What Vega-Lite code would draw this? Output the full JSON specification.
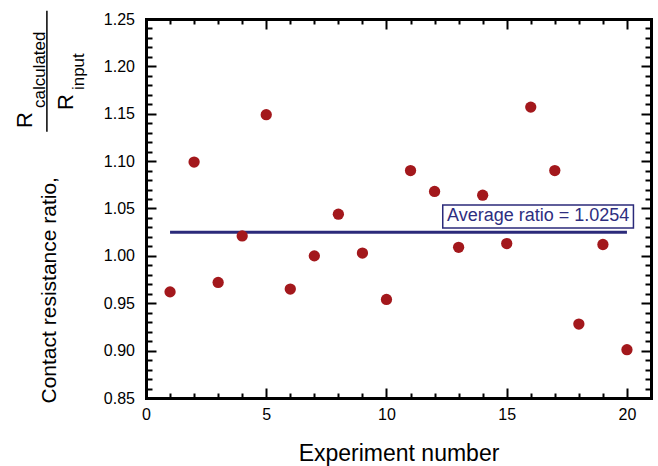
{
  "$schema": "https://vega.github.io/schema/vega-lite/v6.json",
  "width": 505,
  "height": 379,
  "autosize": "none",
  "padding": {"left": 146, "top": 19, "right": 7, "bottom": 68},
  "background": "white",
  "config": {
    "view": {"stroke": null},
    "font": "Liberation Sans",
    "axis": {
      "grid": false,
      "labelColor": "black",
      "labelFont": "Liberation Sans",
      "labelFontSize": 16,
      "labelOverlap": false,
      "labelFlush": false,
      "labelBound": false,
      "titleColor": "black",
      "titleFont": "Liberation Sans",
      "titleFontWeight": "normal"
    }
  },
  "data": {
    "values": [
      {"exp": 1, "ratio": 0.962},
      {"exp": 2, "ratio": 1.099},
      {"exp": 3, "ratio": 0.972},
      {"exp": 4, "ratio": 1.021},
      {"exp": 5, "ratio": 1.149},
      {"exp": 6, "ratio": 0.965},
      {"exp": 7, "ratio": 1.000},
      {"exp": 8, "ratio": 1.044},
      {"exp": 9, "ratio": 1.003},
      {"exp": 10, "ratio": 0.954},
      {"exp": 11, "ratio": 1.090},
      {"exp": 12, "ratio": 1.068},
      {"exp": 13, "ratio": 1.009},
      {"exp": 14, "ratio": 1.064},
      {"exp": 15, "ratio": 1.013},
      {"exp": 16, "ratio": 1.157},
      {"exp": 17, "ratio": 1.090},
      {"exp": 18, "ratio": 0.928},
      {"exp": 19, "ratio": 1.012},
      {"exp": 20, "ratio": 0.901}
    ]
  },
  "resolve": {"axis": {"x": "independent", "y": "independent"}},
  "layer": [
    {
      "mark": {"type": "rule", "color": "#2b2a7a", "strokeWidth": 3},
      "encoding": {
        "x": {
          "aggregate": "min", "field": "exp", "type": "quantitative",
          "scale": {"domain": [0, 21], "nice": false, "zero": false},
          "axis": {
            "orient": "top", "title": null, "labels": false,
            "domain": true, "domainColor": "black", "domainWidth": 3, "domainCap": "square",
            "ticks": true, "tickSize": -10, "tickColor": "black", "tickWidth": 2,
            "values": [0, 5, 10, 15, 20]
          }
        },
        "x2": {"aggregate": "max", "field": "exp"},
        "y": {
          "aggregate": "mean", "field": "ratio", "type": "quantitative",
          "scale": {"domain": [0.85, 1.25], "nice": false, "zero": false},
          "axis": {
            "orient": "right", "title": null, "labels": false,
            "domain": true, "domainColor": "black", "domainWidth": 3, "domainCap": "square",
            "ticks": true, "tickSize": -10, "tickColor": "black", "tickWidth": 2,
            "values": [0.85, 0.9, 0.95, 1.0, 1.05, 1.1, 1.15, 1.2, 1.25]
          }
        }
      }
    },
    {
      "mark": {"type": "circle", "color": "#a3181c", "opacity": 1, "size": 127},
      "encoding": {
        "x": {
          "field": "exp", "type": "quantitative",
          "axis": {
            "orient": "bottom",
            "domain": true, "domainColor": "black", "domainWidth": 3, "domainCap": "square",
            "ticks": true, "tickSize": -10, "tickColor": "black", "tickWidth": 2,
            "title": "Experiment number",
            "titleFontSize": 23,
            "titleX": 252.5,
            "titleY": 62,
            "titleAlign": "center",
            "titleBaseline": "alphabetic",
            "values": [0, 5, 10, 15, 20],
            "labelBaseline": "alphabetic",
            "labelPadding": 31
          }
        },
        "y": {
          "field": "ratio", "type": "quantitative",
          "axis": {
            "orient": "left",
            "domain": true, "domainColor": "black", "domainWidth": 3, "domainCap": "square",
            "ticks": true, "tickSize": -10, "tickColor": "black", "tickWidth": 2,
            "title": "Contact resistance ratio,",
            "titleFontSize": 21,
            "titleAngle": -90,
            "titleX": -91,
            "titleY": 384,
            "titleAlign": "left",
            "titleBaseline": "alphabetic",
            "values": [0.85, 0.9, 0.95, 1.0, 1.05, 1.1, 1.15, 1.2, 1.25],
            "format": ".2f",
            "labelPadding": 21.5
          }
        }
      }
    },
    {
      "data": {"values": [{}]},
      "mark": {"type": "rect", "fill": "white", "stroke": "#2b2a7a", "strokeWidth": 1.5},
      "encoding": {
        "x": {"datum": 12.34, "type": "quantitative",
          "axis": {"orient": "bottom", "title": null, "labels": false, "domain": false,
            "ticks": true, "tickSize": -5, "tickColor": "black", "tickWidth": 2,
            "values": [1,2,3,4,6,7,8,9,11,12,13,14,16,17,18,19,21]}},
        "x2": {"datum": 20.27},
        "y": {"datum": 1.0537, "type": "quantitative",
          "axis": {"orient": "left", "title": null, "labels": false, "domain": false,
            "ticks": true, "tickSize": -6, "tickColor": "black", "tickWidth": 2,
            "values": [0.86,0.87,0.88,0.89,0.91,0.92,0.93,0.94,0.96,0.97,0.98,0.99,1.01,1.02,1.03,1.04,1.06,1.07,1.08,1.09,1.11,1.12,1.13,1.14,1.16,1.17,1.18,1.19,1.21,1.22,1.23,1.24]}},
        "y2": {"datum": 1.0294}
      }
    },
    {
      "data": {"values": [{}]},
      "mark": {"type": "text", "color": "#2e2e80", "fontSize": 18, "font": "Liberation Sans", "align": "center", "baseline": "middle"},
      "encoding": {
        "x": {"datum": 16.31, "type": "quantitative",
          "axis": {"orient": "top", "title": null, "labels": false, "domain": false,
            "ticks": true, "tickSize": -5, "tickColor": "black", "tickWidth": 2,
            "values": [1,2,3,4,6,7,8,9,11,12,13,14,16,17,18,19,21]}},
        "y": {"datum": 1.0416, "type": "quantitative",
          "axis": {"orient": "right", "title": null, "labels": false, "domain": false,
            "ticks": true, "tickSize": -6, "tickColor": "black", "tickWidth": 2,
            "values": [0.86,0.87,0.88,0.89,0.91,0.92,0.93,0.94,0.96,0.97,0.98,0.99,1.01,1.02,1.03,1.04,1.06,1.07,1.08,1.09,1.11,1.12,1.13,1.14,1.16,1.17,1.18,1.19,1.21,1.22,1.23,1.24]}},
        "text": {"value": "Average ratio = 1.0254"}
      }
    },
    {
      "data": {"values": [{}]},
      "mark": {"type": "text", "color": "black", "fontSize": 22, "font": "Liberation Sans", "angle": 270, "align": "left", "baseline": "alphabetic"},
      "encoding": {
        "x": {"datum": -4.749, "type": "quantitative", "axis": null},
        "y": {"datum": 1.135, "type": "quantitative", "axis": null},
        "text": {"value": "R"}
      }
    },
    {
      "data": {"values": [{}]},
      "mark": {"type": "text", "color": "black", "fontSize": 17, "font": "Liberation Sans", "angle": 270, "align": "left", "baseline": "alphabetic"},
      "encoding": {
        "x": {"datum": -4.196, "type": "quantitative", "axis": null},
        "y": {"datum": 1.156, "type": "quantitative", "axis": null},
        "text": {"value": "calculated"}
      }
    },
    {
      "data": {"values": [{}]},
      "mark": {"type": "rule", "color": "black", "strokeWidth": 1.5},
      "encoding": {
        "x": {"datum": -4.121, "type": "quantitative", "axis": null},
        "y": {"datum": 1.2588, "type": "quantitative", "axis": null},
        "y2": {"datum": 1.1311}
      }
    },
    {
      "data": {"values": [{}]},
      "mark": {"type": "text", "color": "black", "fontSize": 22, "font": "Liberation Sans", "angle": 270, "align": "left", "baseline": "alphabetic"},
      "encoding": {
        "x": {"datum": -3.02, "type": "quantitative", "axis": null},
        "y": {"datum": 1.154, "type": "quantitative", "axis": null},
        "text": {"value": "R"}
      }
    },
    {
      "data": {"values": [{}]},
      "mark": {"type": "text", "color": "black", "fontSize": 17, "font": "Liberation Sans", "angle": 270, "align": "left", "baseline": "alphabetic"},
      "encoding": {
        "x": {"datum": -2.563, "type": "quantitative", "axis": null},
        "y": {"datum": 1.175, "type": "quantitative", "axis": null},
        "text": {"value": "input"}
      }
    }
  ]
}
